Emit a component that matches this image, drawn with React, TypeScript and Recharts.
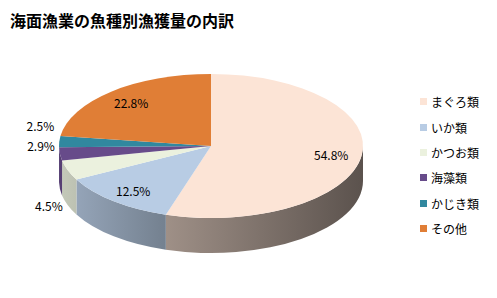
import { Cell, Legend, Pie, PieChart } from "recharts"

const categories = ["まぐろ類", "いか類", "かつお類", "海藻類", "かじき類", "その他"]
const shares = [54.8, 12.5, 4.5, 2.9, 2.5, 22.8]
const colors = ["#FCE4D6", "#B8CCE4", "#EBF1DE", "#674B8A", "#31889F", "#E07E36"]

const title = "海面漁業の魚種別漁獲量の内訳"

const data = categories.map((name, i) => ({ name, value: shares[i] }))

const CX = 211
const CY = 146
const RX = 152
const TILT = 0.474 // ry / rx
const DEPTH = 35
const START = 90
const END = -270
const FONT = "'Noto Sans CJK JP', 'Noto Sans', sans-serif"

const RAD = Math.PI / 180

function pt(cx: number, cy: number, rx: number, deg: number, dy = 0) {
  return [cx + rx * Math.cos(deg * RAD), cy - rx * TILT * Math.sin(deg * RAD) + dy]
}

function shade(hex: string, f: number) {
  const n = parseInt(hex.slice(1), 16)
  const r = Math.round(((n >> 16) & 255) * f)
  const g = Math.round(((n >> 8) & 255) * f)
  const b = Math.round((n & 255) * f)
  return `rgb(${r},${g},${b})`
}

function colorOf(props: any) {
  const name = props.name ?? props.payload?.name
  const i = categories.indexOf(name)
  return i >= 0 ? colors[i] : props.fill
}

function TopFace(props: any) {
  const { cx, cy, outerRadius, startAngle, endAngle } = props
  const ry = outerRadius * TILT
  const [x1, y1] = pt(cx, cy, outerRadius, startAngle)
  const [x2, y2] = pt(cx, cy, outerRadius, endAngle)
  const large = Math.abs(startAngle - endAngle) > 180 ? 1 : 0
  const sweep = startAngle > endAngle ? 1 : 0
  const d = `M${cx},${cy} L${x1},${y1} A${outerRadius},${ry} 0 ${large} ${sweep} ${x2},${y2} Z`
  return <path d={d} fill={colorOf(props)} stroke="none" />
}

function SideFace(props: any) {
  const { cx, cy, outerRadius, startAngle, endAngle } = props
  const lo = Math.min(startAngle, endAngle)
  const hi = Math.max(startAngle, endAngle)
  const a = Math.max(lo, -180)
  const b = Math.min(hi, 0)
  if (a >= b) return <g />
  const ry = outerRadius * TILT
  const [ax, ay] = pt(cx, cy, outerRadius, a)
  const [bx, by] = pt(cx, cy, outerRadius, b)
  const base = colorOf(props)
  const id = `side-${categories.indexOf(props.name ?? props.payload?.name)}`
  const d =
    `M${ax},${ay} A${outerRadius},${ry} 0 0 0 ${bx},${by} ` +
    `L${bx},${by + DEPTH} A${outerRadius},${ry} 0 0 1 ${ax},${ay + DEPTH} Z`
  return (
    <g>
      <defs>
        <linearGradient
          id={id}
          gradientUnits="userSpaceOnUse"
          x1={cx - outerRadius}
          x2={cx + outerRadius}
          y1={0}
          y2={0}
        >
          <stop offset="0" stopColor={shade(base, 0.84)} />
          <stop offset="0.33" stopColor={shade(base, 0.64)} />
          <stop offset="1" stopColor={shade(base, 0.36)} />
        </linearGradient>
      </defs>
      <path d={d} fill={`url(#${id})`} stroke="none" />
    </g>
  )
}

// outside labels for thin slices: sit just above the rim point, or below
// the side wall for slices facing the front, then push apart
const total = shares.reduce((s, v) => s + v, 0)
const mids: number[] = []
{
  let acc = START
  shares.forEach((v) => {
    const span = ((END - START) * v) / total
    mids.push(acc + span / 2)
    acc += span
  })
}
const outsideY: Record<number, number> = {}
{
  const idx = shares.map((v, i) => i).filter((i) => shares[i] < 5)
  const ys = idx.map((i) => {
    const s = Math.sin(mids[i] * RAD)
    let y = CY - RX * TILT * s
    y += s < -0.25 ? DEPTH : -8
    return { i, y }
  })
  ys.sort((p, q) => q.y - p.y)
  for (let k = 1; k < ys.length; k++) {
    if (ys[k - 1].y - ys[k].y < 20) ys[k].y = ys[k - 1].y - 20
  }
  ys.forEach(({ i, y }) => (outsideY[i] = y))
}

function renderLabel(props: any) {
  const { cx, cy, outerRadius, midAngle, value, index } = props
  const text = `${Number(value).toFixed(1)}%`
  if (value < 5) {
    const c = Math.cos(midAngle * RAD)
    const x = cx + outerRadius * c + (c < 0 ? -5 : 5)
    return (
      <text
        x={x}
        y={outsideY[index]}
        textAnchor={c < 0 ? "end" : "start"}
        dominantBaseline="central"
        fontSize={12}
        fontFamily={FONT}
        fill="#000"
      >
        {text}
      </text>
    )
  }
  const [x, y] = pt(cx, cy, outerRadius * 0.8, midAngle)
  return (
    <text
      x={x}
      y={y}
      textAnchor="middle"
      dominantBaseline="central"
      fontSize={12}
      fontFamily={FONT}
      fill="#000"
    >
      {text}
    </text>
  )
}

// legend in data order (recharts sorts its payload by default)
function renderLegend() {
  return (
    <div style={{ fontFamily: FONT, fontSize: 12, color: "#000" }}>
      {categories.map((name, i) => (
        <div key={name} style={{ display: "flex", alignItems: "center", height: 25.4 }}>
          <span
            style={{
              display: "inline-block",
              width: 7,
              height: 7,
              marginRight: 4,
              background: colors[i],
            }}
          />
          <span>{name}</span>
        </div>
      ))}
    </div>
  )
}

export default function App() {
  return (
    <div
      style={{
        position: "absolute",
        left: 0,
        top: 0,
        width: 497,
        height: 298,
        background: "#fff",
      }}
    >
      <div
        style={{
          position: "absolute",
          left: 10,
          top: 11,
          fontFamily: FONT,
          fontWeight: 700,
          fontSize: 16,
          lineHeight: "18px",
          color: "#000",
          whiteSpace: "nowrap",
        }}
      >
        {title}
      </div>
      <PieChart width={497} height={298} margin={{ top: 0, right: 0, bottom: 0, left: 0 }}>
        <Pie
          data={data}
          dataKey="value"
          nameKey="name"
          cx={CX}
          cy={CY}
          outerRadius={RX}
          startAngle={START}
          endAngle={END}
          shape={SideFace}
          activeShape={SideFace}
          inactiveShape={SideFace}
          legendType="none"
          label={false}
          labelLine={false}
          isAnimationActive={false}
        >
          {data.map((d, i) => (
            <Cell key={d.name} fill={colors[i]} />
          ))}
        </Pie>
        <Pie
          data={data}
          dataKey="value"
          nameKey="name"
          cx={CX}
          cy={CY}
          outerRadius={RX}
          startAngle={START}
          endAngle={END}
          shape={TopFace}
          activeShape={TopFace}
          inactiveShape={TopFace}
          legendType="square"
          label={renderLabel}
          labelLine={false}
          isAnimationActive={false}
        >
          {data.map((d, i) => (
            <Cell key={d.name} fill={colors[i]} />
          ))}
        </Pie>
        <Legend
          layout="vertical"
          align="right"
          verticalAlign="top"
          content={renderLegend}
          wrapperStyle={{ left: 420, top: 89, right: "auto", width: 77 }}
        />
      </PieChart>
    </div>
  )
}
